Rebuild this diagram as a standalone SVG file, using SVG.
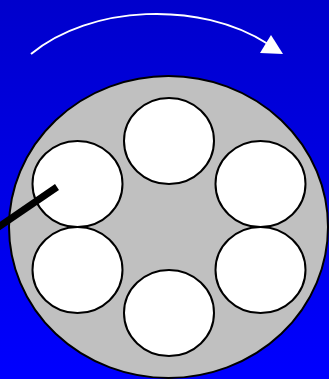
<svg xmlns="http://www.w3.org/2000/svg" width="329" height="379" viewBox="0 0 329 379">
<defs>
<linearGradient id="bg" x1="0" y1="0" x2="0" y2="1">
<stop offset="0" stop-color="#0000CC"/>
<stop offset="1" stop-color="#0000FF"/>
</linearGradient>
</defs>
<style>
.hole{fill:#FFFFFF;stroke:#000;stroke-width:2}
</style>
<rect width="329" height="379" fill="url(#bg)"/>
<g id="arrow">
<path d="M31,54 C90,5 200,0 268,44" fill="none" stroke="#FFFFFF" stroke-width="2"/>
<polygon points="271,35 260,53 283,54" fill="#FFFFFF"/>
</g>
<g id="disk">
<ellipse cx="168.5" cy="227" rx="159.5" ry="151" fill="#C0C0C0" stroke="#000" stroke-width="2"/>
</g>
<g id="hole-top"><ellipse class="hole" cx="169" cy="141" rx="45" ry="43"/></g>
<g id="hole-ul"><ellipse class="hole" cx="77.5" cy="184" rx="45" ry="43"/></g>
<g id="hole-ur"><ellipse class="hole" cx="260.5" cy="184" rx="45" ry="43"/></g>
<g id="hole-ll"><ellipse class="hole" cx="77.5" cy="270" rx="45" ry="43"/></g>
<g id="hole-lr"><ellipse class="hole" cx="260.5" cy="270" rx="45" ry="43"/></g>
<g id="hole-bottom"><ellipse class="hole" cx="169" cy="313" rx="45" ry="43"/></g>
<g id="pointer">
<line x1="-3" y1="228" x2="57" y2="187" stroke="#000" stroke-width="7"/>
</g>
</svg>
